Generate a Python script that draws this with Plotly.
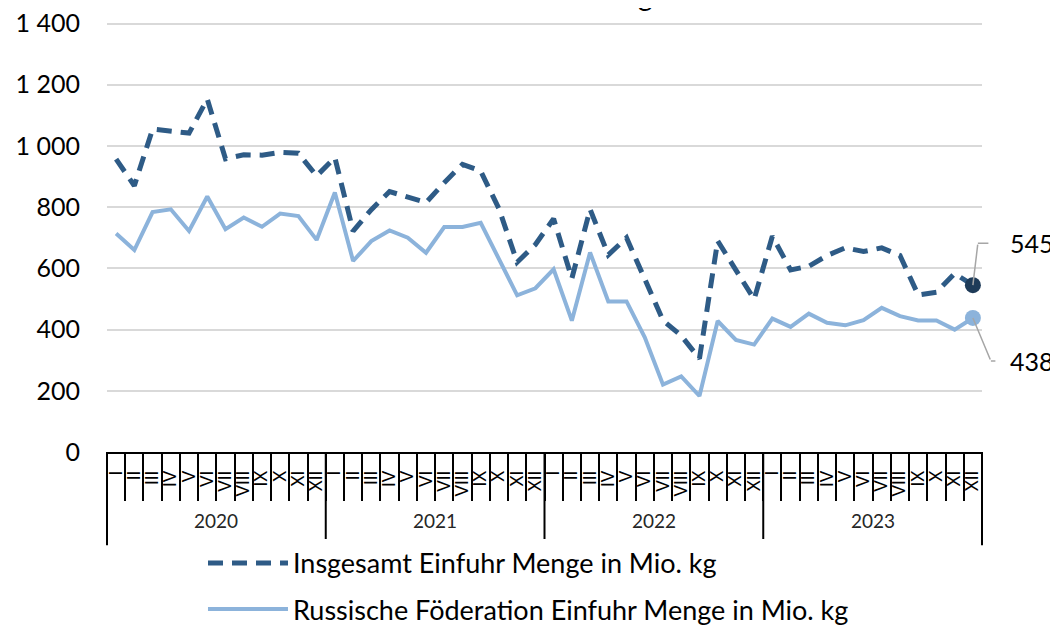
import plotly.graph_objects as go

# Daten
years = ["2020", "2021", "2022", "2023"]
months = ["I", "II", "III", "IV", "V", "VI", "VII", "VIII", "IX", "X", "XI", "XII"]

insgesamt = [957, 870, 1055, 1050, 1042, 1153, 958, 971, 970, 979, 976, 902,
             962, 722, 792, 851, 832, 815, 880, 940, 918, 795, 620, 678,
             762, 567, 793, 644, 700, 564, 430, 380, 305, 690, 594, 499,
             705, 595, 607, 642, 667, 655, 667, 642, 513, 522, 583, 545]
russland = [714, 660, 784, 793, 722, 835, 728, 766, 736, 779, 771, 693,
            848, 624, 689, 724, 700, 651, 735, 735, 749, 629, 512, 535,
            597, 429, 652, 492, 492, 375, 220, 247, 183, 428, 366, 351,
            436, 409, 452, 422, 414, 431, 471, 444, 430, 430, 400, 438]

name_ins = "Insgesamt Einfuhr Menge in Mio. kg"
name_rus = "Russische Föderation Einfuhr Menge in Mio. kg"

DARK = "#2e5b86"
DARK_MARK = "#1e3b58"
LIGHT = "#8cb3db"
GREY = "#a6a6a6"
FONT = "Lato"

x_cat = [y + " " + m for y in years for m in months]
n = len(x_cat)

fig = go.Figure()

fig.add_trace(go.Scatter(x=x_cat, y=insgesamt, mode="lines", name=name_ins,
                         legendgroup="a",
                         line=dict(color=DARK, width=5, dash="15px,9px")))
fig.add_trace(go.Scatter(x=x_cat, y=russland, mode="lines", name=name_rus,
                         legendgroup="b",
                         line=dict(color=LIGHT, width=4)))

# Endpunkte
fig.add_trace(go.Scatter(x=[x_cat[-1]], y=[insgesamt[-1]], mode="markers", showlegend=False,
                         marker=dict(color=DARK_MARK, size=16)))
fig.add_trace(go.Scatter(x=[x_cat[-1]], y=[russland[-1]], mode="markers", showlegend=False,
                         marker=dict(color=LIGHT, size=16)))

# Beschriftungen der Endwerte mit Fuehrungslinie (Knick bei elbow_dx / dy)
for val, elbow_dx, dy in [(insgesamt[-1], 5, -42), (russland[-1], 18, 43)]:
    fig.add_annotation(x=x_cat[-1], y=val, text="", showarrow=True, arrowhead=0,
                       arrowwidth=1.5, arrowcolor=GREY, ax=elbow_dx, ay=dy,
                       standoff=0)
    fig.add_annotation(x=x_cat[-1], y=val, text=str(val), showarrow=True, arrowhead=0,
                       arrowwidth=1.5, arrowcolor=GREY, ax=59 - elbow_dx, ay=0,
                       xshift=elbow_dx, yshift=-dy, startstandoff=22 - elbow_dx // 2,
                       font=dict(family=FONT, size=25, color="black"))

# Jahresbeschriftung und Trennlinien
for k, yr in enumerate(years):
    fig.add_annotation(x=k * len(months) + (len(months) - 1) / 2, y=-0.19, yref="paper",
                       text=yr, showarrow=False,
                       font=dict(family=FONT, size=19, color="#262626"))
for k in range(len(years) + 1):
    fig.add_shape(type="line", xref="paper", yref="paper",
                  x0=k * len(months) / n, x1=k * len(months) / n, y0=0, y1=-0.217,
                  line=dict(color="black", width=2))

# Titel (oben abgeschnitten)
fig.add_annotation(x=0.642, y=1.106, xref="paper", yref="paper", xanchor="right",
                   text="Einfuhr Menge", showarrow=False,
                   font=dict(family=FONT, size=28, color="black"))

fig.update_layout(
    width=1050, height=618,
    margin=dict(l=99, r=76, t=14, b=174, autoexpand=False),
    plot_bgcolor="white", paper_bgcolor="white",
    font=dict(family=FONT, color="black"),
    separators=", ",
    showlegend=True,
    legend=dict(x=0.1097, y=-0.202, xanchor="left", yanchor="top",
                orientation="v", itemwidth=80, tracegroupgap=8,
                traceorder="grouped",
                font=dict(family=FONT, size=27, color="black")),
)

fig.update_xaxes(type="category", range=[-0.5, n - 0.5],
                 tickmode="array", tickvals=x_cat, ticktext=months * len(years),
                 tickangle=-90, tickson="boundaries", ticks="outside",
                 ticklen=47, tickwidth=2, tickcolor="black",
                 ticklabelstandoff=10,
                 tickfont=dict(family=FONT, size=17, color="black"),
                 showline=True, linecolor="black", linewidth=2,
                 showgrid=False, zeroline=False)

fig.update_yaxes(range=[0, 1405], dtick=200, tick0=0,
                 separatethousands=True, ticklabeloverflow="allow",
                 showgrid=True, gridcolor="#d9d9d9", gridwidth=2,
                 zeroline=False, showline=False, ticks="",
                 ticklabelstandoff=26,
                 tickfont=dict(family=FONT, size=25, color="black"))

fig.write_html("out.html")
